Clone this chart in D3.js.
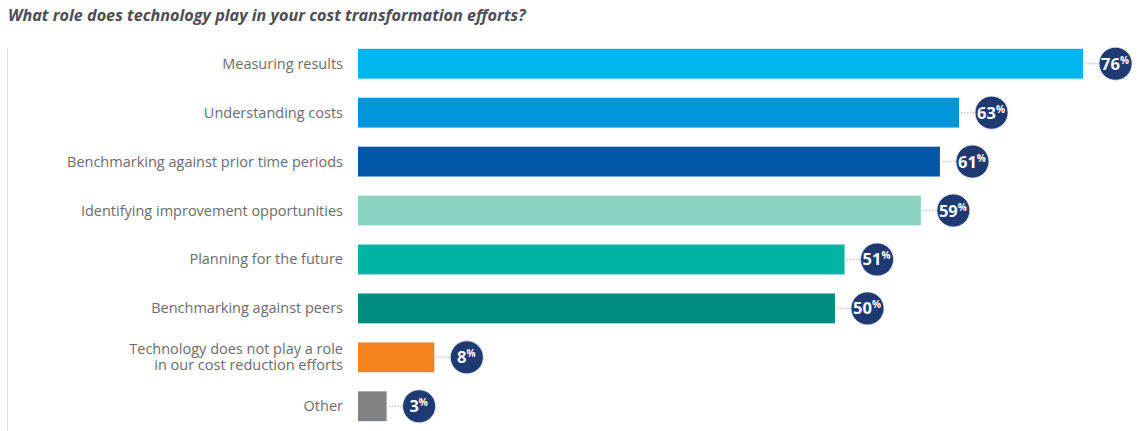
<!DOCTYPE html>
<html>
<head>
<meta charset="utf-8">
<script src="https://cdn.jsdelivr.net/npm/d3@7"></script>
<style>
  body { margin: 0; background: #fff; font-family: "Open Sans", sans-serif; }
</style>
</head>
<body>
<div id="chart"></div>
<script>
// survey answers, top to bottom
var categories = [
  "Measuring results",
  "Understanding costs",
  "Benchmarking against prior time periods",
  "Identifying improvement opportunities",
  "Planning for the future",
  "Benchmarking against peers",
  "Technology does not play a role|in our cost reduction efforts",
  "Other"
];
var values = [76, 63, 61, 59, 51, 50, 8, 3];
var colors = ["#00b6ef", "#0096d9", "#0058a4", "#8cd2c2", "#00b4a4", "#008c80", "#f4821f", "#808285"];

var width = 1140, height = 431;
var svg = d3.select("#chart").append("svg")
    .attr("width", width)
    .attr("height", height);

svg.append("text")
    .attr("x", 8)
    .attr("y", 21)
    .attr("fill", "#4d4d57")
    .style("font-size", "16.2px")
    .style("font-weight", "bold")
    .style("font-style", "italic")
    .text("What role does technology play in your cost transformation efforts?");

// thin rule on the left
svg.append("line")
    .attr("x1", 7.5).attr("x2", 7.5)
    .attr("y1", 48).attr("y2", 431)
    .attr("stroke", "#d9d9d9")
    .attr("stroke-width", 1);

var x = d3.scaleLinear().domain([0, 100]).range([358, 1312]);
var y = d3.scaleBand().domain(categories).range([39, 431]).paddingInner(0.39).paddingOuter(0.2);

var rows = svg.selectAll(".row")
    .data(categories)
    .enter()
    .append("g")
    .attr("class", "row");

rows.append("rect")
    .attr("x", x(0))
    .attr("y", function(d) { return y(d) })
    .attr("width", function(d, i) { return x(values[i]) - x(0) })
    .attr("height", y.bandwidth())
    .attr("fill", function(d, i) { return colors[i] });

rows.each(function(d) {
    var lines = d.split("|");
    var t = d3.select(this).append("text")
        .attr("text-anchor", "end")
        .attr("fill", "#6b6c70")
        .style("font-size", "14.5px");
    var cy = y(d) + y.bandwidth() / 2;
    lines.forEach(function(l, k) {
        t.append("tspan")
            .attr("x", 343)
            .attr("y", cy + 5 + (k - (lines.length - 1) / 2) * 16)
            .text(l);
    });
});

// dotted leader from bar end to the badge
rows.append("line")
    .attr("x1", function(d, i) { return x(values[i]) + 2 })
    .attr("x2", function(d, i) { return x(values[i]) + 18 })
    .attr("y1", function(d) { return y(d) + y.bandwidth() / 2 })
    .attr("y2", function(d) { return y(d) + y.bandwidth() / 2 })
    .attr("stroke", "#c8c8c8")
    .attr("stroke-width", 1.5)
    .attr("stroke-dasharray", "1.5,1.5");

rows.append("circle")
    .attr("cx", function(d, i) { return x(values[i]) + 32.5 })
    .attr("cy", function(d) { return y(d) + y.bandwidth() / 2 })
    .attr("r", 16.5)
    .attr("fill", "#1f3a72")
    .attr("stroke", "#e6e9f0")
    .attr("stroke-width", 0.8);

var lab = rows.append("text")
    .attr("x", function(d, i) { return x(values[i]) + 32 })
    .attr("y", function(d) { return y(d) + y.bandwidth() / 2 + 6 })
    .attr("text-anchor", "middle")
    .attr("fill", "#fff")
    .style("font-weight", "bold");

lab.append("tspan")
    .style("font-size", "16.5px")
    .text(function(d, i) { return values[i] });
lab.append("tspan")
    .attr("dy", -6)
    .style("font-size", "10px")
    .text("%");
</script>
</body>
</html>
